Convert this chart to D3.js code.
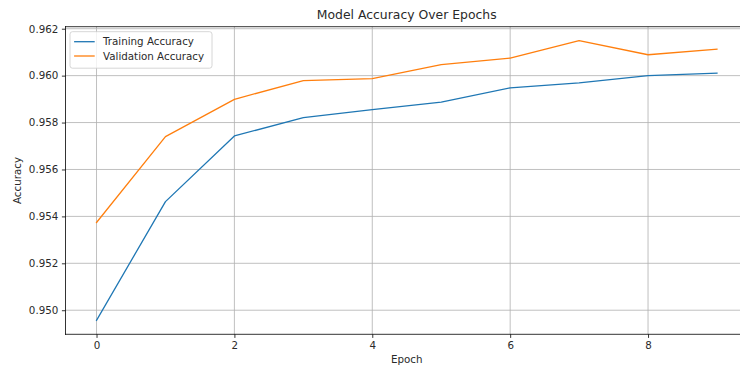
<!DOCTYPE html>
<html>
<head>
<meta charset="utf-8">
<script src="https://cdn.jsdelivr.net/npm/d3@7"></script>
<style>
  html, body { margin: 0; padding: 0; background: #fff; overflow: hidden; }
  svg { display: block; overflow: hidden; }
  text { font-family: "DejaVu Sans", sans-serif; fill: #2a2a2a; }
</style>
</head>
<body>
<svg id="chart" width="740" height="367"></svg>
<script>
// Per-epoch accuracy values
const epochs = [0, 1, 2, 3, 4, 5, 6, 7, 8, 9];
const trainingAccuracy = [0.94957, 0.95463, 0.95743, 0.95821, 0.95855, 0.95887, 0.95948, 0.95969, 0.96000, 0.96011];
const validationAccuracy = [0.95374, 0.95740, 0.95899, 0.95979, 0.95987, 0.96047, 0.96075, 0.96149, 0.96089, 0.96113];
const xTicks = [0, 2, 4, 6, 8];
const yTicks = [0.950, 0.952, 0.954, 0.956, 0.958, 0.960, 0.962];
const seriesNames = ["Training Accuracy", "Validation Accuracy"];
const seriesColors = ["#1f77b4", "#ff7f0e"];

const svg = d3.select("#chart");
const plot = { left: 65.5, right: 748, top: 26.7, bottom: 334.3 };

// 5% padding around the data range on both axes
const xExt = d3.extent(epochs);
const xPad = (xExt[1] - xExt[0]) * 0.05;
const x = d3.scaleLinear().domain([xExt[0] - xPad, xExt[1] + xPad]).range([plot.left, plot.right]);

const allY = trainingAccuracy.concat(validationAccuracy);
const yExt = d3.extent(allY);
const yPad = (yExt[1] - yExt[0]) * 0.05;
const y = d3.scaleLinear().domain([yExt[0] - yPad, yExt[1] + yPad]).range([plot.bottom, plot.top]);

// Grid
const grid = svg.append("g").attr("stroke", "#b0b0b0").attr("stroke-width", 0.8);
grid.selectAll("line.gx").data(xTicks).join("line")
  .attr("x1", d => x(d)).attr("x2", d => x(d))
  .attr("y1", plot.top).attr("y2", plot.bottom);
grid.selectAll("line.gy").data(yTicks).join("line")
  .attr("x1", plot.left).attr("x2", plot.right)
  .attr("y1", d => y(d)).attr("y2", d => y(d));

// Lines
const line = d3.line().x((d, i) => x(epochs[i])).y(d => y(d));
[trainingAccuracy, validationAccuracy].forEach((s, k) => {
  svg.append("path").datum(s)
    .attr("fill", "none")
    .attr("stroke", seriesColors[k])
    .attr("stroke-width", 1.3)
    .attr("stroke-linejoin", "round")
    .attr("stroke-linecap", "square")
    .attr("d", line);
});

// Axes
const xAxis = d3.axisBottom(x).tickValues(xTicks).tickFormat(d3.format("d")).tickSizeOuter(0).tickSize(3.6).tickPadding(3.6);
const yAxis = d3.axisLeft(y).tickValues(yTicks).tickFormat(d3.format(".3f")).tickSizeOuter(0).tickSize(3.6).tickPadding(3.6);

const gx = svg.append("g").attr("transform", `translate(0,${plot.bottom})`).call(xAxis);
const gy = svg.append("g").attr("transform", `translate(${plot.left},0)`).call(yAxis);
[gx, gy].forEach(g => {
  g.select(".domain").remove();
  g.selectAll(".tick line").attr("stroke", "#000").attr("stroke-width", 0.8);
  g.selectAll(".tick text").attr("font-family", "DejaVu Sans").attr("font-size", 10.3).attr("fill", "#2a2a2a");
});

// Spines (left, top, bottom; the right one lies past the page edge)
const spines = [
  [plot.left, plot.top, plot.left, plot.bottom],
  [plot.left, plot.top, plot.right, plot.top],
  [plot.left, plot.bottom, plot.right, plot.bottom]
];
svg.append("g").selectAll("line").data(spines).join("line")
  .attr("x1", d => d[0]).attr("y1", d => d[1]).attr("x2", d => d[2]).attr("y2", d => d[3])
  .attr("stroke", "#000").attr("stroke-width", 0.8).attr("stroke-linecap", "square");

// Title and axis labels
const cx = (plot.left + plot.right) / 2;
svg.append("text").attr("x", cx).attr("y", 18.8).attr("text-anchor", "middle")
  .attr("font-size", 12.4).text("Model Accuracy Over Epochs");
svg.append("text").attr("x", cx).attr("y", 363).attr("text-anchor", "middle")
  .attr("font-size", 10.3).text("Epoch");
svg.append("text").attr("transform", `translate(21,${(plot.top + plot.bottom) / 2}) rotate(-90)`)
  .attr("text-anchor", "middle").attr("font-size", 10.3).text("Accuracy");

// Legend
const lg = svg.append("g").attr("transform", "translate(70,31.7)");
lg.append("rect").attr("x", 0).attr("y", 0).attr("width", 142).attr("height", 36.5)
  .attr("rx", 2.5).attr("fill", "#fff").attr("fill-opacity", 0.8)
  .attr("stroke", "#cccccc").attr("stroke-width", 0.8);
seriesNames.forEach((name, i) => {
  const cy = 10 + i * 14.3;
  lg.append("line").attr("x1", 4.1).attr("x2", 24.7).attr("y1", cy).attr("y2", cy)
    .attr("stroke", seriesColors[i]).attr("stroke-width", 1.3);
  lg.append("text").attr("x", 33).attr("y", cy + 3.7).attr("font-size", 10.3).text(name);
});
</script>
</body>
</html>
